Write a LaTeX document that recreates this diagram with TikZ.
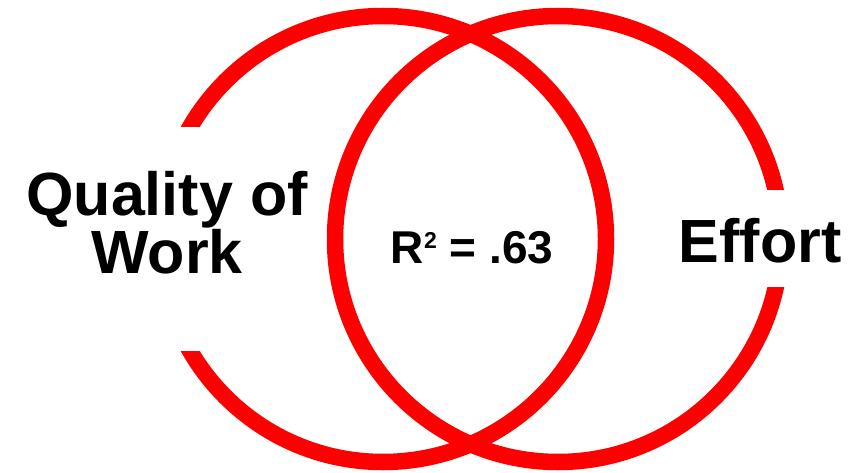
\documentclass[tikz,border=0pt]{standalone}
\usepackage{fontspec}
\setmainfont{Liberation Sans}
\begin{document}
\begin{tikzpicture}[x=1pt,y=1pt]
\definecolor{ringred}{RGB}{255,0,0}
\providecommand{\fbig}{\fontsize{61}{55}\selectfont\bfseries}
\providecommand{\fmid}{\fontsize{46}{50}\selectfont\bfseries}
\tikzset{ring/.style={draw=ringred,line width=16.5pt},mask/.style={fill=white,draw=none,inner sep=0pt},word/.style={inner sep=0pt,text=black,align=center}}
\useasboundingbox (0,0) rectangle (859,472);
\coordinate (qcentre) at (383,233);
\coordinate (ecentre) at (558,233);
\draw[ring] (qcentre) circle (223);
\draw[ring] (ecentre) circle (223);
\node[mask,minimum width=300pt,minimum height=224pt] (qualitymask) at (170,233) {};
\node[mask,minimum width=189pt,minimum height=97pt] (effortmask) at (764.5,233.5) {};
\node[word,font=\fbig,anchor=center] (quality) at (167,249) {Quality of\\Work};
\node[word,font=\fbig,anchor=base] (effort) at (760,210) {Effort};
\node[word,font=\fmid,anchor=base] (rsq) at (472,209) {R\raisebox{15pt}{\fontsize{23}{23}\selectfont 2} = .63};
\end{tikzpicture}
\end{document}
